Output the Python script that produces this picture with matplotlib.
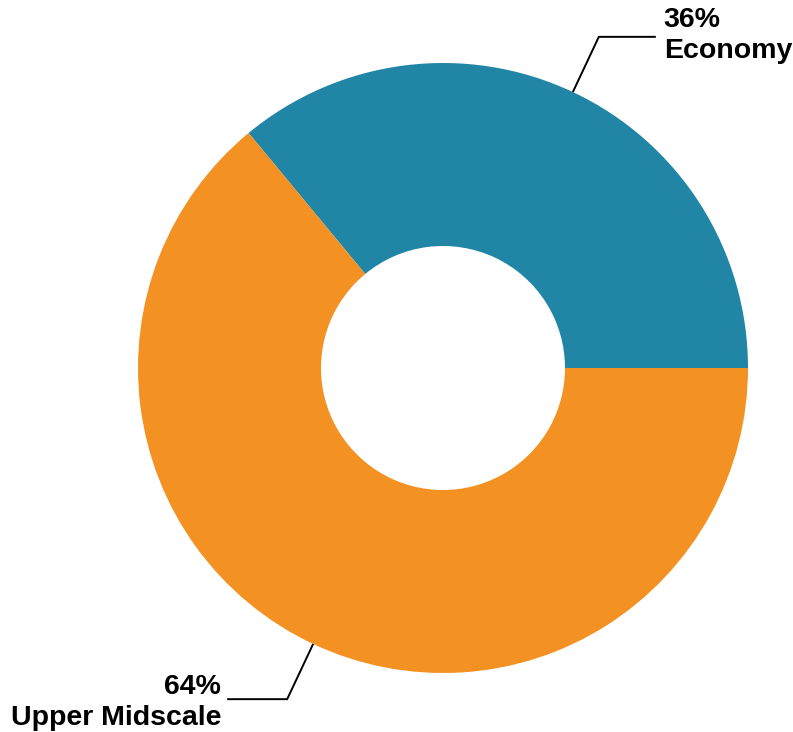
import matplotlib

matplotlib.use("Agg")
import matplotlib.pyplot as plt
import numpy as np

# Share of rooms by hotel class
segments = ["Economy", "Upper Midscale"]
shares = [36, 64]
colors = ["#2185A5", "#F39122"]

plt.rcParams["font.family"] = ["Liberation Sans", "DejaVu Sans"]

W, H = 793, 732
fig = plt.figure(figsize=(W / 100, H / 100), dpi=100)
ax = fig.add_axes([0, 0, 1, 1])

center = (443, H - 368)
r_out, r_in = 305, 122

wedges, _ = ax.pie(
    shares,
    colors=colors,
    startangle=0,
    counterclock=True,
    center=center,
    radius=r_out,
    wedgeprops={"width": r_out - r_in, "linewidth": 0},
    frame=True,
)
ax.set_xlim(0, W)
ax.set_ylim(0, H)
ax.set_aspect("equal")
ax.axis("off")

# leader lines: radial from the outer edge, then a horizontal tail
elbow = 1.2
tail = {"Economy": 57, "Upper Midscale": -60}
for w, name, pct in zip(wedges, segments, shares):
    mid = np.deg2rad((w.theta1 + w.theta2) / 2)
    x0 = center[0] + r_out * np.cos(mid)
    y0 = center[1] + r_out * np.sin(mid)
    x1 = center[0] + r_out * elbow * np.cos(mid)
    y1 = center[1] + r_out * elbow * np.sin(mid)
    x2 = x1 + tail[name]
    ax.plot([x0, x1, x2], [y0, y1, y1], color="black", lw=1.4,
            solid_capstyle="butt", solid_joinstyle="miter")
    if tail[name] > 0:
        ax.text(x2 + 8, y1 + 1, f"{pct}%\n{name}", ha="left", va="center",
                fontsize=20.5, fontweight="bold", linespacing=1.25)
    else:
        ax.text(x2 - 6, y1 - 3, f"{pct}%\n{name}", ha="right", va="center",
                fontsize=20.5, fontweight="bold", linespacing=1.25,
                multialignment="right")

fig.savefig("out.png", dpi=100)
